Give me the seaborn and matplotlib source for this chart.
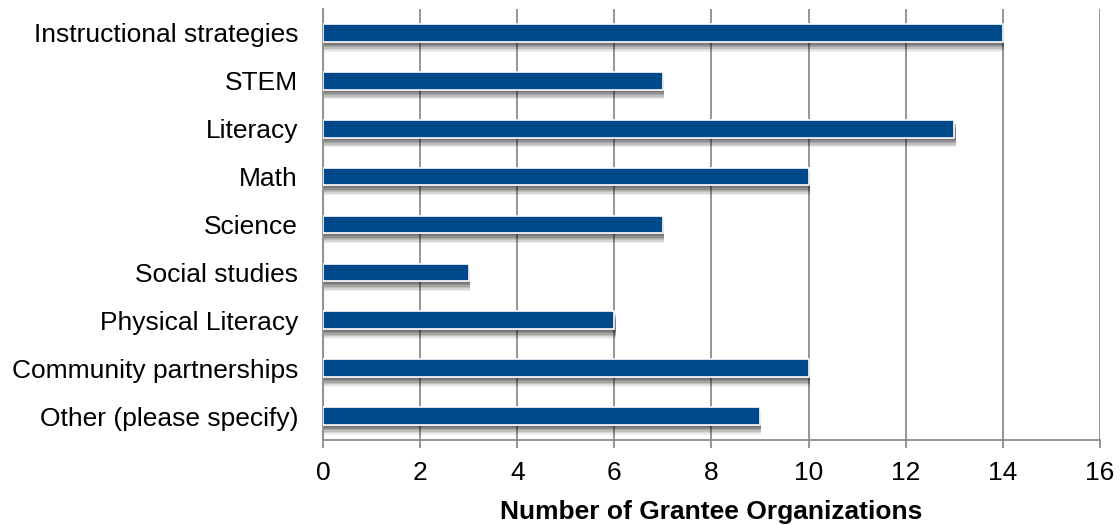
import matplotlib
matplotlib.use("Agg")
import matplotlib.pyplot as plt
import matplotlib.patheffects as pe
import seaborn as sns
import pandas as pd

categories = ["Instructional strategies", "STEM", "Literacy", "Math", "Science",
              "Social studies", "Physical Literacy", "Community partnerships",
              "Other (please specify)"]
counts = [14, 7, 13, 10, 7, 3, 6, 10, 9]
x_ticks = [0, 2, 4, 6, 8, 10, 12, 14, 16]

sns.set_theme(style="white")
plt.rcParams['font.family'] = ['Liberation Sans', 'DejaVu Sans']
plt.rcParams['text.color'] = 'black'
plt.rcParams['xtick.color'] = 'black'
plt.rcParams['ytick.color'] = 'black'
plt.rcParams['axes.labelcolor'] = 'black'

df = pd.DataFrame({"category": categories, "count": counts})

fig = plt.figure(figsize=(11.2, 5.25), dpi=100)
ax = fig.add_axes([0.2884, 0.1619, 0.6937, 0.821])

sns.barplot(data=df, y="category", x="count", orient="h", color="#004A8C",
            saturation=1, width=0.37, edgecolor="white", linewidth=1.2, ax=ax, zorder=3)
shadow = [pe.SimplePatchShadow(offset=(1, -d), shadow_rgbFace="#000000", alpha=a)
          for d, a in [(7, 0.07), (6, 0.09), (5, 0.11), (4, 0.13), (3, 0.14), (2, 0.14)]]
for p in ax.patches:
    p.set_path_effects(shadow + [pe.Normal()])

ax.set_xlim(0, 16)
ax.set_ylim(len(categories) - 0.5, -0.5)
ax.set_xticks(x_ticks)
ax.set_xticklabels([str(t) for t in x_ticks], fontsize=19)
ax.tick_params(axis="y", labelsize=19, length=0, pad=18)
ax.tick_params(axis="x", length=6, width=1.3, color="#8c8c8c", pad=9, bottom=True,
               labelcolor="black")
ax.xaxis.grid(True, color="#8c8c8c", linewidth=1.3, zorder=0)
ax.set_axisbelow(True)
for s in ["top", "right"]:
    ax.spines[s].set_visible(False)
for s in ["left", "bottom"]:
    ax.spines[s].set_color("#8c8c8c")
    ax.spines[s].set_linewidth(1.3)
ax.set_ylabel("")
ax.set_xlabel("Number of Grantee Organizations", fontsize=19, fontweight="bold",
              labelpad=11, color="black")

fig.savefig("out.png", dpi=100)
